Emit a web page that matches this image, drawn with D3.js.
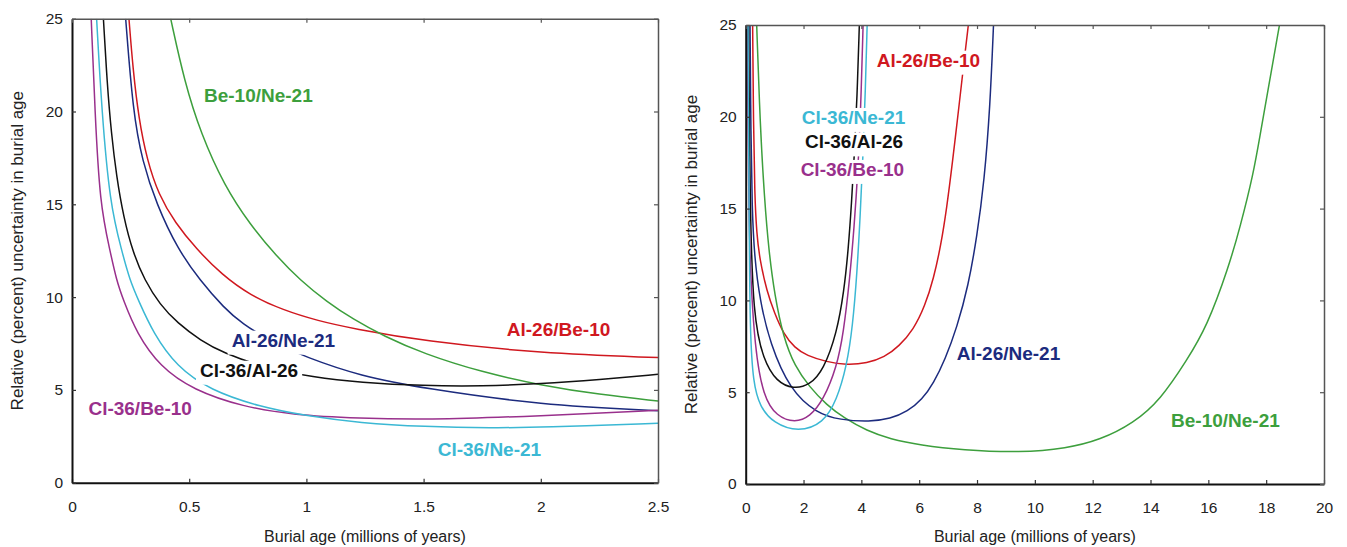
<!DOCTYPE html>
<html>
<head>
<meta charset="utf-8">
<script src="https://cdn.jsdelivr.net/npm/d3@7"></script>
<style>
  body { margin: 0; background: #fff; }
  svg { font-family: "Liberation Sans", Arial, sans-serif; }
</style>
</head>
<body>
<svg id="chart" width="1347" height="547"></svg>
<script>
// Relative burial-age uncertainty (%) vs burial age (Myr)

// left panel: 0 - 2.5 Myr
const shortAl26Be10 = [[0.243,25],[0.26,22.3],[0.285,19.6],[0.32,17.4],[0.37,15.5],[0.44,14.0],[0.53,12.6],[0.64,11.2],[0.76,10.1],[0.9,9.3],[1.05,8.72],[1.2,8.3],[1.5,7.63],[2.0,6.97],[2.5,6.74]];
const shortBe10Ne21 = [[0.421,25],[0.48,21.6],[0.55,18.8],[0.65,16.0],[0.76,13.9],[0.873,12.2],[0.973,10.92],[1.087,9.75],[1.2,8.8],[1.33,7.9],[1.5,6.95],[1.75,5.95],[2.0,5.25],[2.25,4.75],[2.5,4.4]];
const shortAl26Ne21 = [[0.229,25],[0.26,20],[0.30,17.3],[0.361,15],[0.45,12.6],[0.546,10.9],[0.65,9.4],[0.724,8.59],[0.85,7.6],[1.0,6.75],[1.23,5.75],[1.5,5.08],[2.0,4.19],[2.5,3.88]];
const shortCl36Al26 = [[0.134,25],[0.15,21.5],[0.168,18.8],[0.19,16.5],[0.22,14.3],[0.26,12.4],[0.31,10.9],[0.375,9.6],[0.45,8.6],[0.55,7.65],[0.645,7.0],[0.82,6.2],[1.03,5.68],[1.23,5.4],[1.5,5.22],[1.75,5.2],[2.0,5.32],[2.25,5.55],[2.5,5.84]];
const shortCl36Be10 = [[0.082,25],[0.098,20],[0.119,15],[0.162,12.5],[0.19,10.9],[0.219,9.84],[0.276,8.05],[0.375,6.25],[0.518,4.99],[0.73,4.09],[0.944,3.65],[1.23,3.47],[1.5,3.38],[2.0,3.6],[2.5,3.9]];
const shortCl36Ne21 = [[0.105,25],[0.127,20],[0.162,15],[0.212,12.5],[0.247,10.9],[0.283,9.84],[0.347,8.05],[0.447,6.25],[0.589,4.99],[0.8,4.09],[1.0,3.6],[1.23,3.22],[1.5,3.02],[1.8,2.95],[2.0,2.98],[2.5,3.2]];

// right panel: 0 - 20 Myr
const longAl26Be10 = [[0.24,25],[0.27,19.5],[0.31,15.8],[0.38,13.6],[0.49,12.2],[0.73,10.5],[1.0,9.3],[1.3,8.2],[1.7,7.4],[2.11,7.0],[2.8,6.65],[3.49,6.48],[4.2,6.58],[4.8,6.9],[5.3,7.5],[5.8,8.4],[6.2,9.7],[6.5,11.2],[6.75,13.0],[6.95,15.0],[7.15,17.5],[7.4,20.9],[7.55,23.0],[7.7,25]];
const longBe10Ne21 = [[0.38,25],[0.5,19.5],[0.65,15.5],[0.8,12.7],[1.0,10.3],[1.3,8.0],[1.7,6.4],[2.2,5.3],[2.8,4.3],[3.4,3.6],[4.19,2.9],[5.0,2.45],[6.03,2.12],[7.5,1.85],[9.5,1.71],[11.1,1.94],[12.26,2.4],[13.41,3.31],[14.34,4.58],[15.26,6.75],[15.95,8.57],[16.7,11.8],[17.1,14.0],[17.56,16.9],[17.8,19.1],[18.08,21.6],[18.46,25]];
const longAl26Ne21 = [[0.15,25],[0.18,19],[0.22,15],[0.3,12.4],[0.49,10],[0.84,7.66],[1.53,5.12],[2.46,3.85],[3.26,3.49],[4.3,3.39],[5.0,3.55],[5.6,3.95],[6.1,4.6],[6.5,5.5],[6.9,6.8],[7.3,8.5],[7.7,10.8],[8.0,13.5],[8.25,16.5],[8.45,20.5],[8.57,25]];
const longCl36Al26 = [[0.1,25],[0.15,15],[0.26,9.1],[0.61,6.75],[1.07,5.57],[1.65,5.17],[2.22,5.39],[2.69,6.21],[3.15,8.21],[3.4,10.5],[3.55,12.8],[3.66,15.3],[3.76,18.0],[3.85,21.0],[3.93,25]];
const longCl36Be10 = [[0.05,25],[0.1,16],[0.15,11.8],[0.32,7.3],[0.61,4.76],[1.07,3.67],[1.71,3.34],[2.22,3.67],[2.69,4.58],[3.15,6.39],[3.38,8.2],[3.6,11.2],[3.75,14.0],[3.88,17.0],[3.98,20.5],[4.06,25]];
const longCl36Ne21 = [[0.08,25],[0.12,14],[0.15,8.2],[0.26,5.48],[0.49,4.21],[0.96,3.31],[1.82,2.82],[2.69,3.31],[3.15,4.58],[3.49,6.39],[3.7,8.6],[3.85,11.5],[3.96,14.6],[4.06,18.0],[4.14,21.5],[4.2,25]];

const pairNames = ['Al-26/Be-10', 'Be-10/Ne-21', 'Al-26/Ne-21', 'Cl-36/Al-26', 'Cl-36/Be-10', 'Cl-36/Ne-21'];
const pairColors = ['#d0181f', '#3d9f3d', '#1c2b7e', '#111111', '#99308c', '#3bb8d4'];

const leftXTicks = [0, 0.5, 1, 1.5, 2, 2.5];
const rightXTicks = [0, 2, 4, 6, 8, 10, 12, 14, 16, 18, 20];
const yTicks = [0, 5, 10, 15, 20, 25];

const xTitle = 'Burial age (millions of years)';
const yTitle = 'Relative (percent) uncertainty in burial age';

const svg = d3.select('#chart');

function createPanel(id, box, xDomain, xTicks, series, labelAt) {
  const g = svg.append('g').attr('class', id);
  const x = d3.scaleLinear().domain(xDomain).range([box.left, box.right]);
  const y = d3.scaleLinear().domain([0, 25]).range([box.bottom, box.top]);

  g.append('clipPath').attr('id', 'clip-' + id)
    .append('rect')
    .attr('x', box.left).attr('y', box.top)
    .attr('width', box.right - box.left).attr('height', box.bottom - box.top);

  // curves (smoothed through the read-off points)
  const line = d3.line()
    .x(d => x(d[0]))
    .y(d => y(d[1]))
    .curve(d3.curveBasis);

  const curves = g.append('g').attr('clip-path', 'url(#clip-' + id + ')');
  series.forEach((s, i) => {
    curves.append('path')
      .datum(s)
      .attr('fill', 'none')
      .attr('stroke', pairColors[i])
      .attr('stroke-width', 1.5)
      .attr('d', line);
  });

  // labels sit on a white patch that breaks the curves, like the original
  const labels = g.append('g');
  pairNames.forEach((name, i) => {
    const pos = labelAt[i];
    const lg = labels.append('g');
    const t = lg.append('text')
      .attr('x', x(pos[0]))
      .attr('y', y(pos[1]))
      .attr('fill', pairColors[i])
      .attr('font-size', 19)
      .attr('font-weight', 'bold')
      .text(name);
    const bb = t.node().getBBox();
    lg.insert('rect', 'text')
      .attr('x', bb.x - 4).attr('y', bb.y + 1)
      .attr('width', bb.width + 8).attr('height', bb.height + 3)
      .attr('fill', '#fff');
  });

  // frame: bold left/bottom axes, lighter top/right
  const fmt = d => String(d);
  const bottom = g.append('g')
    .attr('transform', 'translate(0,' + box.bottom + ')')
    .call(d3.axisBottom(x).tickValues(xTicks).tickFormat(fmt).tickSizeInner(-4).tickSizeOuter(0).tickPadding(18));
  const left = g.append('g')
    .attr('transform', 'translate(' + box.left + ',0)')
    .call(d3.axisLeft(y).tickValues(yTicks).tickSizeInner(-4).tickSizeOuter(0).tickPadding(9));
  const top = g.append('g')
    .attr('transform', 'translate(0,' + box.top + ')')
    .call(d3.axisTop(x).tickValues(xTicks).tickFormat('').tickSizeInner(-4).tickSizeOuter(0));
  const right = g.append('g')
    .attr('transform', 'translate(' + box.right + ',0)')
    .call(d3.axisRight(y).tickValues(yTicks).tickFormat('').tickSizeInner(-4).tickSizeOuter(0));

  [bottom, left].forEach(a => {
    a.select('.domain').attr('stroke', '#111').attr('stroke-width', 2);
    a.selectAll('.tick line').attr('stroke', '#333').attr('stroke-width', 1.2);
    a.selectAll('text').attr('font-size', 15.5).attr('fill', '#222')
      .attr('font-family', '"Liberation Sans", Arial, sans-serif');
  });
  [top, right].forEach(a => {
    a.select('.domain').attr('stroke', '#555').attr('stroke-width', 1.5);
    a.selectAll('.tick line').attr('stroke', '#555').attr('stroke-width', 1.2);
  });

  // axis titles
  g.append('text')
    .attr('x', (box.left + box.right) / 2)
    .attr('y', 542)
    .attr('text-anchor', 'middle')
    .attr('font-size', 16)
    .attr('fill', '#222')
    .text(xTitle);
  g.append('text')
    .attr('transform', 'translate(' + box.yTitleX + ',' + (box.top + box.bottom) / 2 + ') rotate(-90)')
    .attr('text-anchor', 'middle')
    .attr('font-size', 17)
    .attr('fill', '#222')
    .text(yTitle);

  return {x, y};
}

createPanel('short',
  {left: 72, right: 658, top: 18.7, bottom: 482.7, yTitleX: 23},
  [0, 2.5], leftXTicks,
  [shortAl26Be10, shortBe10Ne21, shortAl26Ne21, shortCl36Al26, shortCl36Be10, shortCl36Ne21],
  [[1.855, 7.9], [0.563, 20.53], [0.681, 7.33], [0.546, 5.71], [0.07, 3.65], [1.56, 1.44]]);

createPanel('long',
  {left: 745.7, right: 1324, top: 25, bottom: 484, yTitleX: 697},
  [0, 20], rightXTicks,
  [longAl26Be10, longBe10Ne21, longAl26Ne21, longCl36Al26, longCl36Be10, longCl36Ne21],
  [[4.53, 22.73], [14.71, 3.12], [7.30, 6.75], [2.05, 18.28], [1.90, 16.78], [1.94, 19.61]]);
</script>
</body>
</html>
